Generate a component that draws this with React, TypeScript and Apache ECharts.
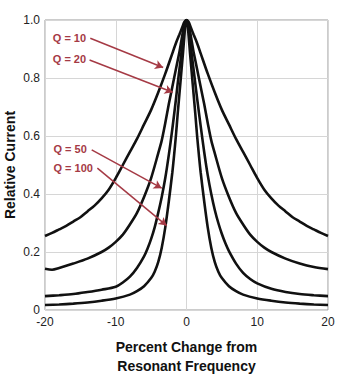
import React, { useEffect, useRef } from "react";
import * as echarts from "echarts";

// Relative current vs percent change from resonant frequency
const q10: [number, number][] = [
  [-20, 0.255], [-19, 0.266], [-18, 0.278], [-17, 0.29], [-16, 0.305], [-15, 0.32], [-14, 0.34],
  [-13, 0.36], [-12, 0.385], [-11, 0.415], [-10, 0.455], [-9, 0.5], [-8, 0.545], [-7, 0.59],
  [-6, 0.64], [-5, 0.69], [-4, 0.75], [-3, 0.815], [-2, 0.885], [-1.5, 0.92], [-1, 0.95],
  [-0.6, 0.975], [-0.3, 0.993], [0, 1], [0.3, 0.993], [0.6, 0.975], [1, 0.95], [1.5, 0.92],
  [2, 0.885], [3, 0.815], [4, 0.75], [5, 0.69], [6, 0.64], [7, 0.59], [8, 0.545], [9, 0.5],
  [10, 0.455], [11, 0.415], [12, 0.385], [13, 0.36], [14, 0.34], [15, 0.32], [16, 0.305],
  [17, 0.29], [18, 0.278], [19, 0.266], [20, 0.255],
];
const q20: [number, number][] = [
  [-20, 0.142], [-19, 0.139], [-18, 0.145], [-16, 0.16], [-14, 0.177], [-12, 0.2], [-11, 0.215],
  [-10, 0.235], [-9, 0.26], [-8, 0.295], [-7, 0.335], [-6, 0.39], [-5, 0.455], [-4, 0.54],
  [-3.5, 0.585], [-3, 0.645], [-2.5, 0.71], [-2, 0.77], [-1.5, 0.83], [-1, 0.89], [-0.75, 0.925],
  [-0.5, 0.96], [-0.25, 0.99], [0, 1], [0.25, 0.99], [0.5, 0.96], [0.75, 0.925], [1, 0.89],
  [1.5, 0.83], [2, 0.77], [2.5, 0.71], [3, 0.645], [3.5, 0.585], [4, 0.54], [5, 0.455],
  [6, 0.39], [7, 0.335], [8, 0.295], [9, 0.26], [10, 0.235], [11, 0.215], [12, 0.2],
  [14, 0.177], [16, 0.16], [18, 0.148], [20, 0.141],
];
const q50: [number, number][] = [
  [-20, 0.048], [-18, 0.051], [-16, 0.055], [-14, 0.062], [-12, 0.07], [-10, 0.08], [-9, 0.095],
  [-8, 0.115], [-7, 0.145], [-6, 0.185], [-5.5, 0.212], [-5, 0.245], [-4.5, 0.285], [-4, 0.335],
  [-3.5, 0.39], [-3, 0.455], [-2.5, 0.535], [-2, 0.625], [-1.5, 0.725], [-1.25, 0.78],
  [-1, 0.83], [-0.75, 0.88], [-0.5, 0.935], [-0.25, 0.98], [0, 1], [0.25, 0.98], [0.5, 0.935],
  [0.75, 0.88], [1, 0.83], [1.25, 0.78], [1.5, 0.73], [2, 0.635], [2.5, 0.545], [3, 0.465],
  [3.5, 0.4], [4, 0.345], [4.5, 0.3], [5, 0.262], [5.5, 0.23], [6, 0.203], [7, 0.16],
  [8, 0.128], [9, 0.107], [10, 0.092], [12, 0.073], [14, 0.062], [16, 0.055], [18, 0.051], [20, 0.048],
];
const q100: [number, number][] = [
  [-20, 0.017], [-18, 0.019], [-16, 0.022], [-14, 0.026], [-12, 0.032], [-10, 0.04], [-8, 0.053],
  [-7, 0.065], [-6, 0.082], [-5, 0.11], [-4.5, 0.132], [-4, 0.165], [-3.5, 0.215], [-3, 0.285],
  [-2.5, 0.375], [-2, 0.475], [-1.75, 0.535], [-1.5, 0.6], [-1.25, 0.675], [-1, 0.745],
  [-0.75, 0.815], [-0.5, 0.885], [-0.3, 0.945], [-0.15, 0.985], [0, 1], [0.15, 0.985],
  [0.3, 0.945], [0.5, 0.885], [0.75, 0.815], [1, 0.745], [1.25, 0.675], [1.5, 0.6],
  [1.75, 0.535], [2, 0.475], [2.5, 0.375], [3, 0.285], [3.5, 0.215], [4, 0.165], [4.5, 0.132],
  [5, 0.11], [6, 0.082], [7, 0.065], [8, 0.053], [10, 0.04], [12, 0.032], [14, 0.026],
  [16, 0.022], [18, 0.019], [20, 0.017],
];

const qLabels = ["Q = 10", "Q = 20", "Q = 50", "Q = 100"];
// arrow start / end in data coordinates
const arrowStarts: [number, number][] = [[-13.6, 0.937], [-13.7, 0.862], [-13.4, 0.552], [-12.6, 0.489]];
const arrowEnds: [number, number][] = [[-3.3, 0.836], [-1.95, 0.751], [-3.5, 0.42], [-2.8, 0.291]];
const labelAnchors: [number, number][] = [[-18.9, 0.937], [-18.9, 0.864], [-18.8, 0.555], [-18.8, 0.491]];

const xTicks = [-20, -10, 0, 10, 20];
const RED = "#a53a45";

export default function App() {
  const ref = useRef<HTMLDivElement>(null);
  useEffect(() => {
    if (!ref.current) return;
    const chart = echarts.init(ref.current, null, { renderer: "svg" });
    const curveSeries = [q10, q20, q50, q100].map((d, i) => ({
      type: "line",
      name: qLabels[i],
      data: d,
      showSymbol: false,
      smooth: 0.3,
      lineStyle: { color: "#111", width: 2.6 },
      z: 3,
    }));
    chart.setOption({
      animation: false,
      backgroundColor: "#fff",
      textStyle: { fontFamily: "Liberation Sans, Arial, sans-serif" },
      grid: {
        left: 45, right: 10, top: 20, bottom: 67,
        outerBoundsMode: "none",
        containLabel: false,
        show: true, borderColor: "#999", borderWidth: 1,
      },
      xAxis: {
        type: "value",
        min: -20,
        max: 20,
        interval: 10,
        name: "Percent Change from\nResonant Frequency",
        nameLocation: "middle",
        nameGap: 27,
        nameMoveOverlap: false,
        nameTextStyle: { fontSize: 14, fontWeight: "bold", color: "#111", lineHeight: 19 },
        axisLine: { show: false },
        axisTick: { show: false },
        axisLabel: { fontSize: 12, color: "#222", margin: 6, formatter: (v: number) => (xTicks.includes(v) ? String(v) : "") },
        splitLine: { lineStyle: { color: "#d6d6d6", width: 1 } },
      },
      yAxis: {
        type: "value",
        min: 0,
        max: 1,
        interval: 0.2,
        name: "Relative Current",
        nameLocation: "middle",
        nameGap: 28,
        nameMoveOverlap: false,
        nameTextStyle: { fontSize: 14, fontWeight: "bold", color: "#111" },
        axisLine: { show: false },
        axisTick: { show: false },
        axisLabel: { fontSize: 12, color: "#222", margin: 5, formatter: (v: number) => (v === 0 ? "0" : v.toFixed(1)) },
        splitLine: { lineStyle: { color: "#d6d6d6", width: 1 } },
      },
      series: [
        ...curveSeries,
        {
          type: "line",
          data: [],
          z: 4,
          markLine: {
            silent: true,
            symbol: ["none", "arrow"],
            symbolSize: [7, 8],
            label: { show: false },
            lineStyle: { color: RED, width: 1.5, type: "solid" },
            data: arrowStarts.map((s, i) => [
              { coord: s },
              { coord: arrowEnds[i] },
            ]),
          },
          markPoint: {
            silent: true,
            symbol: "rect",
            symbolSize: 0,
            data: labelAnchors.map((c, i) => ({
              coord: c,
              label: {
                show: true,
                position: "right",
                distance: 0,
                formatter: qLabels[i],
                color: RED,
                fontSize: 11,
                fontWeight: "bold",
              },
            })),
          },
        },
      ],
    });
    return () => chart.dispose();
  }, []);
  return <div ref={ref} style={{ position: "fixed", left: 0, top: 0, width: 338, height: 377 }} />;
}
